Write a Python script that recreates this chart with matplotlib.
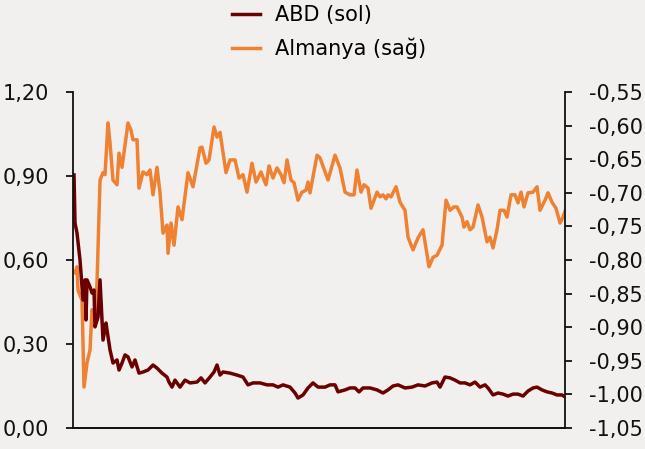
#!/usr/bin/env python3
import matplotlib
matplotlib.use("Agg")
import matplotlib.pyplot as plt
from matplotlib.ticker import FixedLocator, FuncFormatter

# ABD (sol eksen) - gün indeksi ve değer
abd_gun = [1, 2, 4, 7, 10, 12, 13, 14, 17, 19, 21, 22, 25, 27, 30, 33, 34, 37, 40, 44,
           46, 49, 52, 55, 59, 62, 66, 70, 75, 80, 84, 89, 94, 96, 99, 102, 107, 112, 117, 124,
           128, 132, 137, 141, 144, 147, 150, 157, 164, 170, 175, 180, 187, 194, 200, 205, 210, 217, 222, 225,
           230, 235, 240, 245, 252, 257, 262, 265, 272, 277, 282, 286, 290, 297, 304, 310, 315, 320, 325, 332,
           339, 345, 352, 359, 364, 367, 372, 377, 382, 387, 392, 397, 402, 407, 412, 415, 420, 425, 430, 435,
           440, 445, 450, 455, 460, 464, 469, 474, 479, 484, 489, 492]
abd = [0.904, 0.732, 0.696, 0.600, 0.457, 0.529, 0.386, 0.529, 0.504, 0.482, 0.493, 0.361, 0.396, 0.529, 0.314, 0.375, 0.350, 0.279, 0.232, 0.243,
       0.207, 0.232, 0.261, 0.254, 0.218, 0.243, 0.196, 0.200, 0.207, 0.225, 0.214, 0.196, 0.182, 0.164, 0.146, 0.171, 0.146, 0.171, 0.161, 0.164,
       0.179, 0.161, 0.182, 0.200, 0.225, 0.189, 0.200, 0.196, 0.189, 0.182, 0.154, 0.161, 0.161, 0.154, 0.154, 0.146, 0.154, 0.146, 0.125, 0.107,
       0.118, 0.143, 0.161, 0.146, 0.146, 0.154, 0.154, 0.129, 0.136, 0.143, 0.143, 0.129, 0.143, 0.143, 0.136, 0.125, 0.136, 0.150, 0.154, 0.143,
       0.146, 0.154, 0.150, 0.161, 0.164, 0.146, 0.182, 0.179, 0.171, 0.161, 0.161, 0.154, 0.164, 0.146, 0.154, 0.143, 0.118, 0.125, 0.121, 0.114,
       0.121, 0.121, 0.114, 0.132, 0.143, 0.146, 0.136, 0.129, 0.125, 0.118, 0.118, 0.111]

# Almanya (sağ eksen)
alm_gun = [2, 4, 5, 9, 11, 14, 17, 19, 22, 24, 27, 30, 32, 35, 37, 40, 44, 46, 49, 50,
           55, 58, 60, 64, 66, 70, 74, 77, 80, 84, 87, 90, 94, 95, 98, 101, 105, 109, 115, 120,
           127, 129, 133, 136, 141, 144, 147, 153, 157, 162, 166, 170, 174, 179, 183, 188, 191, 193, 196, 200,
           204, 208, 211, 214, 218, 221, 225, 229, 233, 235, 237, 244, 247, 255, 262, 267, 272, 277, 281, 284,
           288, 291, 295, 298, 304, 307, 310, 313, 315, 318, 323, 327, 332, 335, 340, 345, 350, 356, 360, 364,
           369, 373, 377, 381, 384, 389, 391, 394, 397, 400, 405, 409, 414, 417, 420, 424, 427, 431, 434, 438,
           442, 445, 448, 451, 455, 460, 464, 467, 472, 475, 479, 483, 487, 490, 493]
almanya = [-0.819, -0.810, -0.845, -0.860, -0.989, -0.953, -0.934, -0.874, -0.885, -0.834, -0.681, -0.670, -0.673, -0.596, -0.626, -0.681, -0.688, -0.641, -0.662, -0.651,
           -0.596, -0.607, -0.621, -0.621, -0.693, -0.669, -0.673, -0.666, -0.703, -0.662, -0.700, -0.760, -0.748, -0.790, -0.745, -0.778, -0.721, -0.740, -0.670, -0.691,
           -0.633, -0.632, -0.656, -0.651, -0.602, -0.617, -0.610, -0.670, -0.651, -0.651, -0.678, -0.673, -0.699, -0.656, -0.684, -0.669, -0.681, -0.688, -0.660, -0.678,
           -0.663, -0.673, -0.685, -0.651, -0.681, -0.685, -0.711, -0.699, -0.696, -0.684, -0.700, -0.644, -0.648, -0.681, -0.644, -0.663, -0.699, -0.703, -0.703, -0.666,
           -0.699, -0.688, -0.693, -0.723, -0.699, -0.706, -0.703, -0.709, -0.703, -0.706, -0.691, -0.714, -0.726, -0.766, -0.785, -0.767, -0.755, -0.810, -0.796, -0.793,
           -0.778, -0.711, -0.726, -0.721, -0.721, -0.736, -0.751, -0.743, -0.755, -0.751, -0.718, -0.736, -0.773, -0.766, -0.782, -0.755, -0.726, -0.726, -0.736, -0.703,
           -0.703, -0.715, -0.699, -0.721, -0.700, -0.699, -0.691, -0.726, -0.711, -0.700, -0.714, -0.723, -0.745, -0.736, -0.723]

sol_ticks = [0.0, 0.30, 0.60, 0.90, 1.20]
sag_ticks = [-1.05, -1.00, -0.95, -0.90, -0.85, -0.80, -0.75, -0.70, -0.65, -0.60, -0.55]

BG = '#F2F0EE'
KOYU = '#6B0000'
TURUNCU = '#EF8133'


def virgul(fmt):
    return FuncFormatter(lambda v, p: fmt.format(v).replace('.', ','))


def main():
    plt.rcParams['font.family'] = ['DejaVu Sans']
    fig = plt.figure(figsize=(6.45, 4.49), dpi=100, facecolor=BG)
    ax2 = fig.add_axes([0.1132, 0.0468, 0.7628, 0.7482])
    ax = ax2.twinx()
    # sol eksen solda olsun, sağ eksen sağda
    ax.yaxis.tick_left()
    ax.yaxis.set_label_position('left')
    ax2.yaxis.tick_right()
    ax2.yaxis.set_label_position('right')
    ax2.set_facecolor(BG)
    ax.patch.set_visible(False)

    l2, = ax2.plot(alm_gun, almanya, color=TURUNCU, lw=2.5, solid_joinstyle='round')
    l1, = ax.plot(abd_gun, abd, color=KOYU, lw=2.5, solid_joinstyle='round')

    ax.set_xlim(0, 492)
    ax.set_ylim(0, 1.2)
    ax2.set_ylim(-1.05, -0.55)
    ax.yaxis.set_major_locator(FixedLocator(sol_ticks))
    ax2.yaxis.set_major_locator(FixedLocator(sag_ticks))
    ax.yaxis.set_major_formatter(virgul('{:.2f}'))
    ax2.yaxis.set_major_formatter(virgul('{:.2f}'))

    for a in (ax, ax2):
        a.set_xticks([])
        a.spines['top'].set_visible(False)
        for s in a.spines.values():
            s.set_linewidth(1.3)
            s.set_color('#111111')
        a.tick_params(axis='y', direction='out', length=5, width=1.3,
                      labelsize=15, colors='#111111', pad=12)
    ax.spines['right'].set_visible(False)
    ax2.spines['left'].set_visible(False)

    fig.legend([l1, l2], ['ABD (sol)', 'Almanya (sağ)'], loc='upper center',
               bbox_to_anchor=(0.51, 1.03), frameon=False, fontsize=15,
               handlelength=1.35, handletextpad=0.7, labelspacing=0.6)

    fig.savefig('out.png', dpi=100, facecolor=BG)


if __name__ == "__main__":
    main()
